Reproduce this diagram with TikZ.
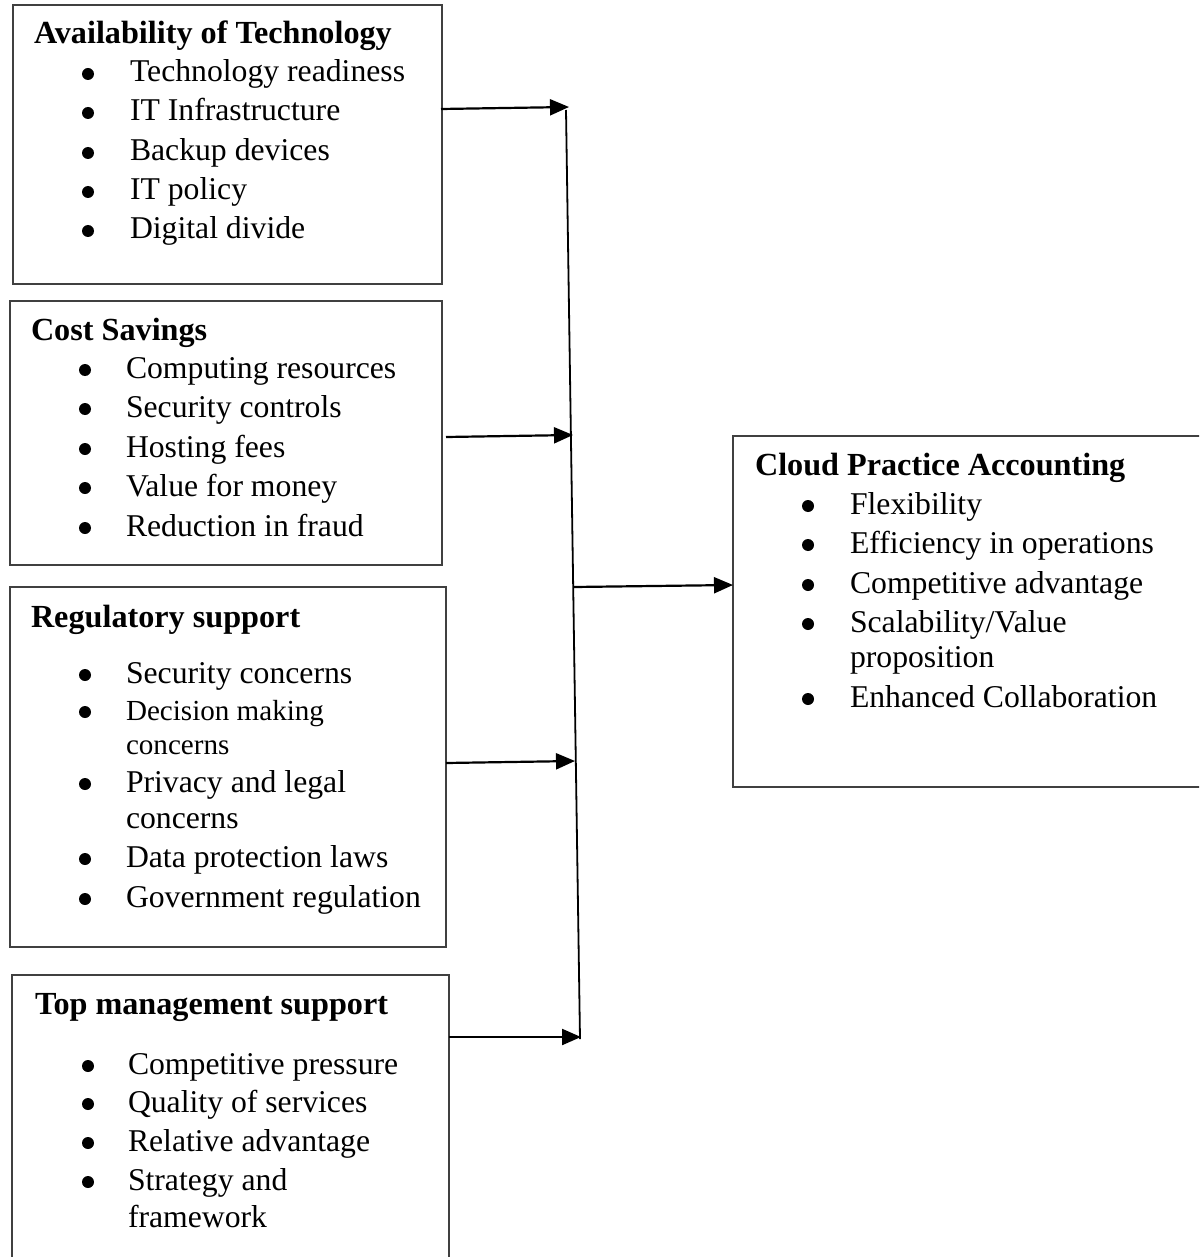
\documentclass[tikz,border=0pt]{standalone}
\usepackage{fontspec}
\setmainfont{Liberation Serif}
\usetikzlibrary{arrows.meta}
\newcommand\bitem[5]{%
  \fill (#2,#4-8) circle (6pt);
  \node[txt] (#1) at (#3,#4) {#5};}
\newcommand\citem[4]{%
  \node[txt] (#1) at (#2,#3) {#4};}
\begin{document}
\begin{tikzpicture}[x=1pt,y=-1pt,
  box/.style={draw=black!75, line width=1.3pt, inner sep=0, outer sep=0, anchor=north west},
  txt/.style={anchor=base west, inner sep=0, outer sep=0, font=\fontsize{31.7}{38}\selectfont},
  ttl/.style={txt, font=\fontsize{32.2}{38}\selectfont\bfseries},
  smalltxt/.style={txt, font=\fontsize{29.1}{35}\selectfont},
  arr/.style={line width=2.2pt, -{Triangle[length=19pt,width=16pt]}},
  bus/.style={line width=1.8pt}]
\useasboundingbox (0,0) rectangle (1199,1257);
\clip (0,0) rectangle (1199,1257);

% boxes
\node[box, minimum width=429pt, minimum height=279pt] (avail) at (13,5) {};
\node[box, minimum width=432pt, minimum height=264pt] (cost) at (10,301) {};
\node[box, minimum width=436pt, minimum height=360pt] (reg) at (10,587) {};
\node[box, minimum width=437pt, minimum height=320pt] (top) at (12,975) {};
\node[box, minimum width=490pt, minimum height=351pt] (cloud) at (733,436) {};

% Availability of Technology
\node[ttl] (at) at (34,44) {Availability of Technology};
\bitem{a1}{88}{130}{82}{Technology readiness}
\bitem{a2}{88}{130}{121}{IT Infrastructure}
\bitem{a3}{88}{130}{161}{Backup devices}
\bitem{a4}{88}{130}{200}{IT policy}
\bitem{a5}{88}{130}{239}{Digital divide}

% Cost Savings
\node[ttl] (ct) at (31,340) {Cost Savings};
\bitem{c1}{85}{126}{378}{Computing resources}
\bitem{c2}{85}{126}{417}{Security controls}
\bitem{c3}{85}{126}{457}{Hosting fees}
\bitem{c4}{85}{126}{496}{Value for money}
\bitem{c5}{85}{126}{536}{Reduction in fraud}

% Regulatory support
\node[ttl] (rt) at (31,627) {Regulatory support};
\bitem{r1}{85}{126}{683}{Security concerns}
\fill (85,712) circle (6pt);
\node[smalltxt] (r2) at (126,720) {Decision making};
\node[smalltxt] (r2b) at (126,754) {concerns};
\bitem{r3}{85}{126}{792}{Privacy and legal}
\citem{r3b}{126}{828}{concerns}
\bitem{r4}{85}{126}{867}{Data protection laws}
\bitem{r5}{85}{126}{907}{Government regulation}

% Top management support
\node[ttl] (mt) at (35,1014) {Top management support};
\bitem{m1}{88}{128}{1074}{Competitive pressure}
\bitem{m2}{88}{128}{1112}{Quality of services}
\bitem{m3}{88}{128}{1151}{Relative advantage}
\bitem{m4}{88}{128}{1190}{Strategy and}
\citem{m4b}{128}{1227}{framework}

% Cloud Practice Accounting
\node[ttl] (pt) at (755,475) {Cloud Practice Accounting};
\bitem{p1}{808}{850}{514}{Flexibility}
\bitem{p2}{808}{850}{553}{Efficiency in operations}
\bitem{p3}{808}{850}{593}{Competitive advantage}
\bitem{p4}{808}{850}{632}{Scalability/Value}
\citem{p4b}{850}{667}{proposition}
\bitem{p5}{808}{850}{707}{Enhanced Collaboration}

% connectors
\coordinate (s1) at (441,109);
\coordinate (s2) at (446,437);
\coordinate (s3) at (446,763);
\coordinate (s4) at (449,1037);
\coordinate (t1) at (569,107);
\coordinate (t2) at (573,435);
\coordinate (t3) at (575,761);
\coordinate (t4) at (581,1037);
\coordinate (bustop) at (566,110);
\coordinate (busbot) at (580,1039);
\coordinate (s5) at (574,587);

\draw[bus] (bustop) -- (busbot);
\draw[arr] (s1) -- (t1);
\draw[arr] (s2) -- (t2);
\draw[arr] (s3) -- (t3);
\draw[arr] (s4) -- (t4);
\draw[arr] (s5) -- (cloud.west |- 0,585);
\end{tikzpicture}
\end{document}
